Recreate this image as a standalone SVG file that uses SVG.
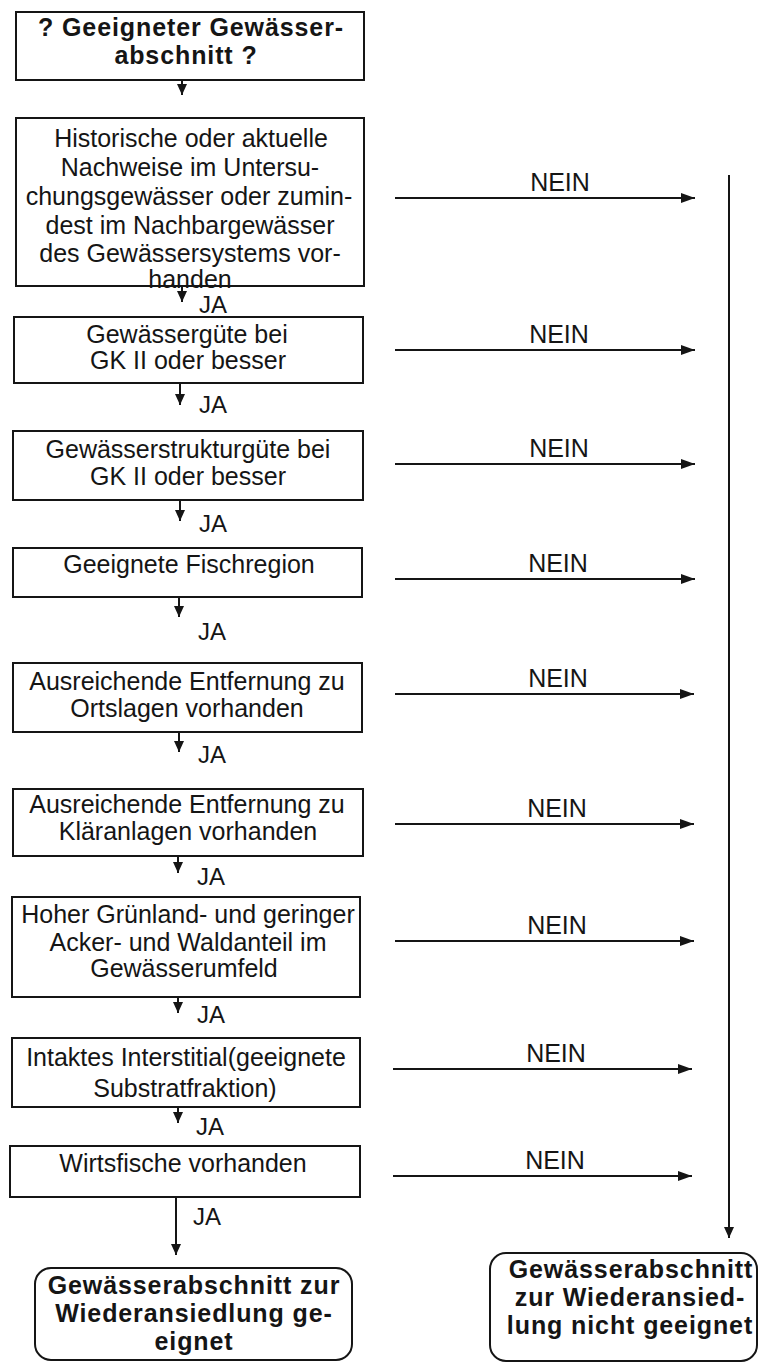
<svg xmlns="http://www.w3.org/2000/svg" width="760" height="1364" viewBox="0 0 760 1364">
<defs>
<style>
.box{fill:#fff;stroke:#151515;stroke-width:2}
.t{font-family:"Liberation Sans",Arial,Helvetica,sans-serif;font-size:25px;fill:#151515;text-anchor:middle}
.b{font-family:"Liberation Sans",Arial,Helvetica,sans-serif;font-size:25px;font-weight:bold;letter-spacing:0.9px;fill:#151515;text-anchor:middle}
.ja{font-family:"Liberation Sans",Arial,Helvetica,sans-serif;font-size:24px;fill:#151515}
.c{stroke:#151515;stroke-width:2;fill:none}
.dn{marker-end:url(#ad)}
.rt{marker-end:url(#ar)}
</style>
<marker id="ad" markerUnits="userSpaceOnUse" markerWidth="10" markerHeight="12" refX="5" refY="11" orient="0" overflow="visible">
<path d="M0,0 L10,0 L5,11 z" fill="#151515"/>
</marker>
<marker id="ar" markerUnits="userSpaceOnUse" markerWidth="14" markerHeight="10" refX="14" refY="5" orient="0" overflow="visible">
<path d="M0,0 L14,5 L0,10 z" fill="#151515"/>
</marker>
</defs>
<rect width="760" height="1364" fill="#fff"/>

<g id="connectors">
<line class="c dn" x1="182" y1="80" x2="182" y2="95"/>
<line class="c dn" x1="182" y1="286" x2="182" y2="302"/>
<line class="c dn" x1="180" y1="383" x2="180" y2="405"/>
<line class="c dn" x1="180" y1="500" x2="180" y2="521"/>
<line class="c dn" x1="179" y1="597" x2="179" y2="617"/>
<line class="c dn" x1="179" y1="732" x2="179" y2="752"/>
<line class="c dn" x1="178" y1="856" x2="178" y2="873"/>
<line class="c dn" x1="178" y1="997" x2="178" y2="1013"/>
<line class="c dn" x1="178" y1="1107" x2="178" y2="1123"/>
<line class="c dn" x1="176" y1="1197" x2="176" y2="1255"/>
<text class="ja" x="199" y="313">JA</text>
<text class="ja" x="199" y="413">JA</text>
<text class="ja" x="199" y="532">JA</text>
<text class="ja" x="198" y="640">JA</text>
<text class="ja" x="198" y="763">JA</text>
<text class="ja" x="197" y="885">JA</text>
<text class="ja" x="197" y="1023">JA</text>
<text class="ja" x="196" y="1135">JA</text>
<text class="ja" x="193" y="1225">JA</text>

<line class="c rt" x1="395" y1="198" x2="695" y2="198"/>
<line class="c rt" x1="395" y1="350" x2="695" y2="350"/>
<line class="c rt" x1="395" y1="464" x2="695" y2="464"/>
<line class="c rt" x1="395" y1="579" x2="695" y2="579"/>
<line class="c rt" x1="395" y1="694" x2="694" y2="694"/>
<line class="c rt" x1="395" y1="824" x2="694" y2="824"/>
<line class="c rt" x1="395" y1="941" x2="694" y2="941"/>
<line class="c rt" x1="393" y1="1069" x2="692" y2="1069"/>
<line class="c rt" x1="393" y1="1176" x2="692" y2="1176"/>
<text class="t" x="560" y="191">NEIN</text>
<text class="t" x="559" y="343">NEIN</text>
<text class="t" x="559" y="457">NEIN</text>
<text class="t" x="558" y="572">NEIN</text>
<text class="t" x="558" y="687">NEIN</text>
<text class="t" x="557" y="817">NEIN</text>
<text class="t" x="557" y="934">NEIN</text>
<text class="t" x="556" y="1062">NEIN</text>
<text class="t" x="555" y="1169">NEIN</text>

<line class="c dn" x1="729" y1="175" x2="729" y2="1238"/>
</g>

<g id="n0">
<rect class="box" x="16" y="12" width="348" height="68"/>
<text class="b" x="191" y="36">? Geeigneter Gewässer-</text>
<text class="b" x="186" y="64">abschnitt ?</text>
</g>

<g id="n1">
<rect class="box" x="16" y="118" width="348" height="168"/>
<text class="t" x="191" y="147">Historische oder aktuelle</text>
<text class="t" x="190" y="176">Nachweise im Untersu-</text>
<text class="t" x="189" y="205">chungsgewässer oder zumin-</text>
<text class="t" x="190" y="234">dest im Nachbargewässer</text>
<text class="t" x="190" y="262">des Gewässersystems vor-</text>
<text class="t" x="190" y="288">handen</text>
</g>

<g id="n2">
<rect class="box" x="14" y="317" width="349" height="66"/>
<text class="t" x="187" y="343">Gewässergüte bei</text>
<text class="t" x="188" y="369">GK II oder besser</text>
</g>

<g id="n3">
<rect class="box" x="13" y="431" width="350" height="69"/>
<text class="t" x="188" y="458">Gewässerstrukturgüte bei</text>
<text class="t" x="188" y="485">GK II oder besser</text>
</g>

<g id="n4">
<rect class="box" x="13" y="548" width="349" height="49"/>
<text class="t" x="189" y="573">Geeignete Fischregion</text>
</g>

<g id="n5">
<rect class="box" x="13" y="663" width="349" height="69"/>
<text class="t" x="187" y="690">Ausreichende Entfernung zu</text>
<text class="t" x="187" y="717">Ortslagen vorhanden</text>
</g>

<g id="n6">
<rect class="box" x="13" y="789" width="350" height="67"/>
<text class="t" x="187" y="813">Ausreichende Entfernung zu</text>
<text class="t" x="188" y="840">Kläranlagen vorhanden</text>
</g>

<g id="n7">
<rect class="box" x="12" y="897" width="348" height="100"/>
<text class="t" x="188" y="923">Hoher Grünland- und geringer</text>
<text class="t" x="188" y="951">Acker- und Waldanteil im</text>
<text class="t" x="184" y="977">Gewässerumfeld</text>
</g>

<g id="n8">
<rect class="box" x="12" y="1038" width="348" height="69"/>
<text class="t" x="186" y="1066">Intaktes Interstitial(geeignete</text>
<text class="t" x="185" y="1097">Substratfraktion)</text>
</g>

<g id="n9">
<rect class="box" x="10" y="1146" width="350" height="51"/>
<text class="t" x="183" y="1172">Wirtsfische vorhanden</text>
</g>

<g id="n10">
<rect class="box" x="35" y="1268" width="317" height="92" rx="16" ry="16"/>
<text class="b" x="194" y="1294">Gewässerabschnitt zur</text>
<text class="b" x="194" y="1322">Wiederansiedlung ge-</text>
<text class="b" x="194" y="1350">eignet</text>
</g>

<g id="n11">
<rect class="box" x="490" y="1253" width="267" height="108" rx="16" ry="16"/>
<text class="b" x="631" y="1278">Gewässerabschnitt</text>
<text class="b" x="630" y="1306">zur Wiederansied-</text>
<text class="b" x="630" y="1334">lung nicht geeignet</text>
</g>
</svg>
